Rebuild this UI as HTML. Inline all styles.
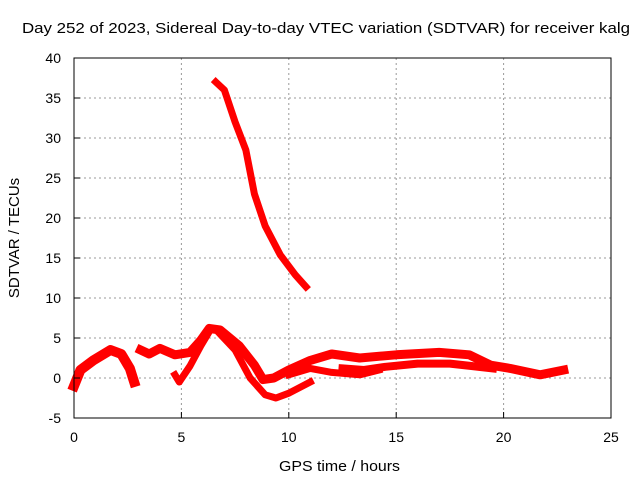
<!DOCTYPE html>
<html><head><meta charset="utf-8"><style>
body{margin:0;background:#fff;font-family:"Liberation Sans",sans-serif;}
svg text{font-family:"Liberation Sans",sans-serif;font-size:14px;fill:#000;}
</style></head><body>
<svg id="c" width="640" height="480" xmlns="http://www.w3.org/2000/svg">
<rect width="640" height="480" fill="#fff"/>
<text x="22" y="33" textLength="608" lengthAdjust="spacingAndGlyphs" style="font-size:15px">Day 252 of 2023, Sidereal Day-to-day VTEC variation (SDTVAR) for receiver kalg</text>
<text x="279" y="471" textLength="121" lengthAdjust="spacingAndGlyphs" style="font-size:15px">GPS time / hours</text>
<text transform="translate(19,238) rotate(-90)" text-anchor="middle" style="font-size:15px">SDTVAR / TECUs</text>
<g id="grid"></g><g id="series"></g>
<rect x="74" y="58" width="537" height="360" fill="none" stroke="#000" stroke-width="1"/>
<g id="ticks"></g>
</svg>
<script>
const xTicks=[0,5,10,15,20,25];
const yTicks=[-5,0,5,10,15,20,25,30,35,40];
const trackTopH=[6.6,7.0,7.5,8.0,8.4,8.9,9.6,10.3,10.8];
const trackTopV=[37,36,32,28.5,23,19,15.4,12.9,11.4];
const trackMainH=[0,0.3,0.9,1.7,2.2,2.6,2.8];
const trackMainV=[-1,1,2.2,3.5,3.0,1.2,-0.5];
const trackMidH=[3.1,3.5,4.0,4.7,5.4,5.9,6.3,6.8,7.7,8.4,8.8,9.3,10,11,12,13.3,15,17,18.4,19.4,20.3,21.7,22.8];
const trackMidV=[3.5,3,3.7,2.9,3.2,4.7,6.2,6,4,1.6,-0.2,0,1,2.2,3,2.5,2.9,3.2,2.9,1.6,1.2,0.4,1];
const trackDipH=[4.7,4.9,5.4,5.9,6.3];
const trackDipV=[0.4,-0.5,1.5,4,5.8];
const trackLowH=[6.8,7.5,8.2,8.9,9.4,10,11];
const trackLowV=[5.5,3.5,0,-2.1,-2.5,-1.9,-0.5];
const trackBranchH=[10,11,12,13.3,14.2];
const trackBranchV=[0.4,1.2,0.7,0.4,1];
const trackBandH=[12.5,13.5,14.5,16,17.5,18.5,19.5];
const trackBandV=[1.2,1.0,1.4,1.8,1.8,1.5,1.2];
const X=h=>74+h*537/25, Y=v=>378-v*8;
const NS='http://www.w3.org/2000/svg';
const g=document.getElementById('grid'),t=document.getElementById('ticks'),s=document.getElementById('series');
function mk(tag,a,p){const e=document.createElementNS(NS,tag);for(const k in a)e.setAttribute(k,a[k]);p.appendChild(e);return e;}
xTicks.forEach(h=>{
 if(h>0&&h<25){const l=mk('line',{x1:X(h),x2:X(h),y1:58,y2:418,stroke:'#999','stroke-dasharray':'2,3'},g);
 
 }
 mk('line',{x1:X(h),x2:X(h),y1:418,y2:412,stroke:'#000'},t);
 const tx=mk('text',{x:X(h),y:442,'text-anchor':'middle'},t);tx.textContent=h;
 
 
});
yTicks.forEach(v=>{
 if(v>-5&&v<40){const l=mk('line',{x1:74,x2:611,y1:Y(v),y2:Y(v),stroke:'#999','stroke-dasharray':'2,3'},g);
 
 }
 mk('line',{x1:74,x2:80,y1:Y(v),y2:Y(v),stroke:'#000'},t);
 const tx=mk('text',{x:61,y:Y(v)+5,'text-anchor':'end'},t);tx.textContent=v;
 
 
});
[[trackTopH,trackTopV,'track-top',7],[trackMainH,trackMainV,'track-early',10],[trackMidH,trackMidV,'track-main',9],[trackDipH,trackDipV,'track-dip',7],[trackLowH,trackLowV,'track-low',7],[trackBranchH,trackBranchV,'track-branch',7],[trackBandH,trackBandV,'track-band',8]].forEach(([hs,vs,n,w])=>{
 const p=mk('polyline',{points:hs.map((h,i)=>X(h)+','+Y(vs[i])).join(' '),fill:'none',stroke:'#f00','stroke-width':w,'stroke-linejoin':'round','stroke-linecap':'square'},s);
 
 
});
</script>
</body></html>
